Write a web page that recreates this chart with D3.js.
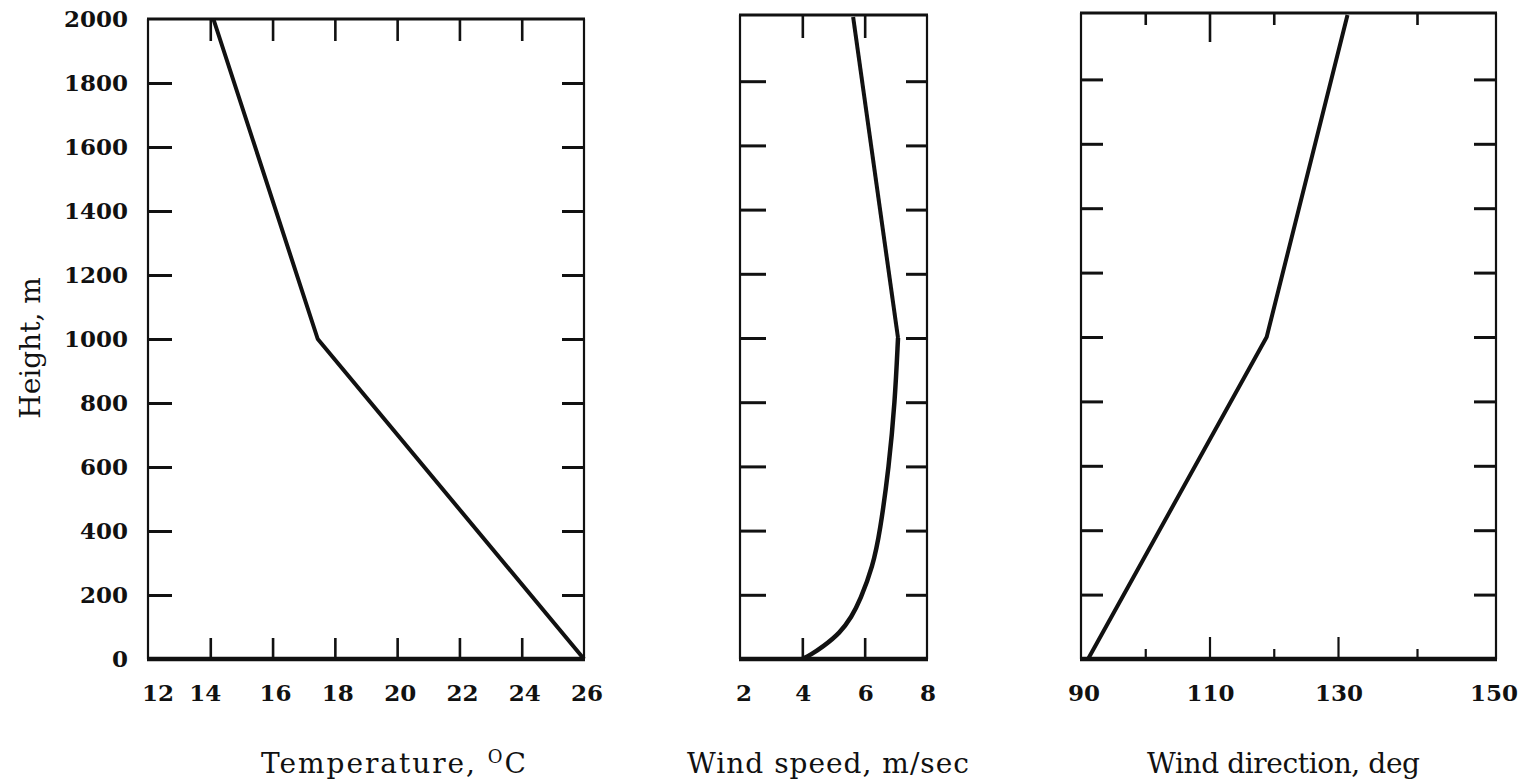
<!DOCTYPE html>
<html>
<head>
<meta charset="utf-8">
<script src="https://cdn.jsdelivr.net/npm/d3@7"></script>
<style>
  html, body { margin: 0; padding: 0; background: #fff; }
  svg { display: block; }
  .tick-label { font-family: "DejaVu Serif", serif; font-weight: bold; font-size: 23px; fill: #111; }
  .title { font-family: "DejaVu Serif", serif; font-size: 28px; fill: #111; }
</style>
</head>
<body>
<svg id="chart" width="1528" height="781"></svg>
<script>
// Height levels shared by the profiles (m)
const heightTicks = [0, 200, 400, 600, 800, 1000, 1200, 1400, 1600, 1800, 2000];

// Temperature profile
const tempHeights = [0, 1000, 2000];
const tempValues = [26, 17.45, 14.1];
const tempTicks = [12, 14, 16, 18, 20, 22, 24, 26];

// Wind speed profile: smooth lower layer, straight upper layer
const speedHeights = [0, 12, 38, 81, 131, 184, 288, 394, 600, 800, 1000, 2000];
const speedValues = [4.0, 4.25, 4.66, 5.21, 5.58, 5.86, 6.26, 6.49, 6.78, 6.97, 7.07, 5.63];
const speedTicks = [2, 4, 6, 8];
const speedBreak = 1000;

// Wind direction profile
const dirHeights = [0, 1000, 2000];
const dirValues = [91.1, 118.9, 131.2];
const dirTicks = [90, 110, 130, 150];
const dirMinorTicks = [100, 120, 140];

const svg = d3.select("#chart");
const ink = "#111";

// Panel layouts
const panels = [
  { key: "temp", left: 148, right: 584, top: 19 },
  { key: "speed", left: 740, right: 927, top: 15 },
  { key: "dir", left: 1081, right: 1496, top: 13 }
];
const bottom = 659;

const xTemp = d3.scaleLinear().domain([12, 26]).range([148, 584]);
const xSpeed = d3.scaleLinear().domain([2, 8]).range([740, 927]);
const xDir = d3.scaleLinear().domain([90, 130, 150]).range([1081, 1338, 1496]);

const yTemp = d3.scaleLinear().domain([0, 2000]).range([bottom, 19]);
const ySpeed = d3.scaleLinear().domain([0, 2000]).range([bottom, 17]);
const yDir = d3.scaleLinear().domain([0, 2000]).range([bottom, 15]);

const innerHeights = heightTicks.slice(1, -1);

function styleAxis(g, w) {
  g.select(".domain").remove();
  g.selectAll(".tick line").attr("stroke", ink).attr("stroke-width", w);
}

function frame(p) {
  const g = svg.append("g");
  g.append("line").attr("x1", p.left).attr("x2", p.left).attr("y1", p.top).attr("y2", bottom)
    .attr("stroke", ink).attr("stroke-width", 2.2);
  g.append("line").attr("x1", p.right).attr("x2", p.right).attr("y1", p.top).attr("y2", bottom)
    .attr("stroke", ink).attr("stroke-width", 2.2);
  g.append("line").attr("x1", p.left - 1).attr("x2", p.right + 1).attr("y1", p.top).attr("y2", p.top)
    .attr("stroke", ink).attr("stroke-width", 3);
  g.append("line").attr("x1", p.left - 1).attr("x2", p.right + 1).attr("y1", bottom).attr("y2", bottom)
    .attr("stroke", ink).attr("stroke-width", 4.5);
}

function sideTicks(p, y, lenL, lenR) {
  svg.append("g").attr("transform", `translate(${p.left},0)`)
    .call(d3.axisLeft(y).tickValues(innerHeights).tickSize(-lenL).tickFormat(""))
    .call(g => styleAxis(g, 3));
  svg.append("g").attr("transform", `translate(${p.right},0)`)
    .call(d3.axisRight(y).tickValues(innerHeights).tickSize(-lenR).tickFormat(""))
    .call(g => styleAxis(g, 3));
}

function topBottomTicks(p, x, vals, lenTop, lenBottom) {
  svg.append("g").attr("transform", `translate(0,${p.top})`)
    .call(d3.axisTop(x).tickValues(vals).tickSize(-lenTop).tickFormat(""))
    .call(g => styleAxis(g, 2.6));
  svg.append("g").attr("transform", `translate(0,${bottom})`)
    .call(d3.axisBottom(x).tickValues(vals).tickSize(-lenBottom).tickFormat(""))
    .call(g => styleAxis(g, 2.6));
}

function bottomLabels(x, vals, nudge) {
  svg.append("g").selectAll("text").data(vals).join("text")
    .attr("class", "tick-label")
    .attr("text-anchor", "middle")
    .attr("x", (d, i) => x(d) + (nudge ? nudge(i) : 0))
    .attr("y", 701)
    .text(d => d);
}

const line = (x, y, curve) => d3.line().x(d => x(d[1])).y(d => y(d[0])).curve(curve);

function profile(pairs, x, y, curve, width) {
  svg.append("path")
    .datum(pairs)
    .attr("fill", "none").attr("stroke", ink).attr("stroke-width", width)
    .attr("stroke-linejoin", "round").attr("stroke-linecap", "butt")
    .attr("d", line(x, y, curve));
}

// ---- Temperature panel ----
const p1 = panels[0];
frame(p1);
sideTicks(p1, yTemp, 24, 22);
topBottomTicks(p1, xTemp, tempTicks.slice(1, -1), 22, 21);
svg.append("g").attr("transform", `translate(${p1.left},0)`)
  .call(d3.axisLeft(yTemp).tickValues(heightTicks).tickSize(0).tickPadding(20).tickFormat(d3.format("d")))
  .call(g => g.select(".domain").remove())
  .call(g => g.selectAll("text").attr("class", "tick-label").attr("font-size", null).attr("font-family", null));
bottomLabels(xTemp, tempTicks, i => (i === 0 ? 10 : i === 1 ? -5 : 3));
profile(d3.zip(tempHeights, tempValues), xTemp, yTemp, d3.curveLinear, 4);

// ---- Wind speed panel ----
const p2 = panels[1];
frame(p2);
sideTicks(p2, ySpeed, 26, 21);
topBottomTicks(p2, xSpeed, speedTicks.slice(1, -1), 23, 21);
bottomLabels(xSpeed, speedTicks, i => (i === 0 ? 4 : 1));
const speedPairs = d3.zip(speedHeights, speedValues);
profile(speedPairs.filter(d => d[0] <= speedBreak), xSpeed, ySpeed, d3.curveBasis, 4.5);
profile(speedPairs.filter(d => d[0] >= speedBreak), xSpeed, ySpeed, d3.curveLinear, 4);

// ---- Wind direction panel ----
const p3 = panels[2];
frame(p3);
sideTicks(p3, yDir, 22, 22);
svg.append("g").attr("transform", `translate(0,${p3.top})`)
  .call(d3.axisTop(xDir).tickValues([110]).tickSize(-29).tickFormat(""))
  .call(g => styleAxis(g, 2.6));
svg.append("g").attr("transform", `translate(0,${p3.top})`)
  .call(d3.axisTop(xDir).tickValues(dirMinorTicks).tickSize(-12).tickFormat(""))
  .call(g => styleAxis(g, 2.6));
svg.append("g").attr("transform", `translate(0,${bottom})`)
  .call(d3.axisBottom(xDir).tickValues([110, 130]).tickSize(-22).tickFormat(""))
  .call(g => styleAxis(g, 2.2));
svg.append("g").attr("transform", `translate(0,${bottom})`)
  .call(d3.axisBottom(xDir).tickValues(dirMinorTicks).tickSize(-10).tickFormat(""))
  .call(g => styleAxis(g, 2.2));
bottomLabels(xDir, dirTicks, i => (i === 0 ? 3 : i === 3 ? -2 : 1));
profile(d3.zip(dirHeights, dirValues), xDir, yDir, d3.curveLinear, 4);

// ---- Axis titles ----
svg.append("text").attr("class", "title")
  .attr("transform", "translate(40,348) rotate(-90)")
  .attr("text-anchor", "middle")
  .text("Height, m");

const tTitle = svg.append("text").attr("class", "title")
  .attr("x", 261).attr("y", 773)
  .attr("textLength", 265).attr("lengthAdjust", "spacing");
tTitle.append("tspan").text("Temperature, ");
tTitle.append("tspan").attr("font-size", 18).attr("dy", -10).text("O");
tTitle.append("tspan").attr("dy", 10).text("C");

svg.append("text").attr("class", "title")
  .attr("x", 687).attr("y", 773)
  .attr("textLength", 282).attr("lengthAdjust", "spacing")
  .text("Wind speed, m/sec");

svg.append("text").attr("class", "title")
  .attr("x", 1147).attr("y", 773)
  .attr("textLength", 273).attr("lengthAdjust", "spacing")
  .text("Wind direction, deg");
</script>
</body>
</html>
